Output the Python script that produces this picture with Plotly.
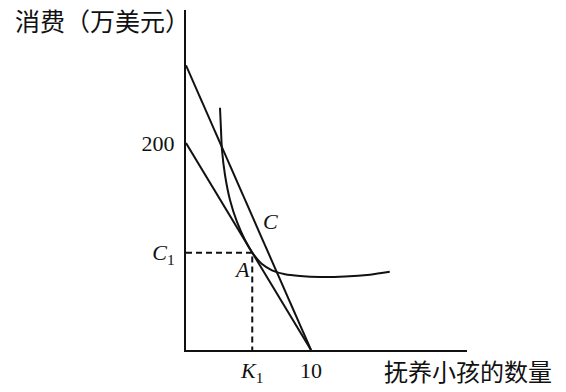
import plotly.graph_objects as go

# ---- data ----
K1 = 5.3          # children at optimum A
C1 = 94           # consumption at optimum A
budget_x = [0, 10]
budget_y = [200, 0]          # budget line 1
steep_x = [0, 10]
steep_y = [275, 0]           # budget line 2 (steeper)
indiff_x = [2.72, 2.8, 2.88, 3.12, 3.52, 4.08, 4.72, 5.3, 6.08, 6.88, 7.92, 9.12, 10.72, 12.72, 14.72, 16.3]
indiff_y = [234, 212.6, 193.2, 169.1, 144.9, 123.7, 106.3, 94.2, 83, 77, 73.2, 71.5, 70.5, 71.0, 72.8, 75.5]
x_tick_vals = [K1, 10]
x_tick_text = ["<i>K</i><sub>1</sub>", "10"]
y_tick_vals = [C1, 200]
y_tick_text = ["<i>C</i><sub>1</sub>", "200"]
label_C = (6.75, 124)
label_A = (4.45, 78)

X_MAX = 22.48
Y_MAX = 328.5
ink = "#111111"
serif = "Liberation Serif, DejaVu Serif, serif"
cjk = "Noto Sans CJK SC"

fig = go.Figure()
fig.add_trace(go.Scatter(x=steep_x, y=steep_y, mode="lines", line=dict(color=ink, width=2), cliponaxis=False))
fig.add_trace(go.Scatter(x=budget_x, y=budget_y, mode="lines", line=dict(color=ink, width=2), cliponaxis=False))
fig.add_trace(go.Scatter(x=indiff_x, y=indiff_y, mode="lines", line=dict(color=ink, width=2, shape="spline", smoothing=0.8)))
fig.add_trace(go.Scatter(x=[0, K1, K1], y=[C1, C1, 0], mode="lines", line=dict(color=ink, width=2, dash="6px,4px")))

fig.add_annotation(x=label_C[0], y=label_C[1], text="<i>C</i>", showarrow=False,
                   font=dict(family=serif, size=22, color=ink))
fig.add_annotation(x=label_A[0], y=label_A[1], text="<i>A</i>", showarrow=False,
                   font=dict(family=serif, size=22, color=ink))
fig.add_annotation(xref="paper", yref="paper", x=0.02, y=0.97, xanchor="right", yanchor="middle",
                   text="消费（万美元）", showarrow=False, font=dict(family=cjk, size=25, color=ink))
fig.add_annotation(xref="paper", yref="paper", x=0.699, y=-0.06, xanchor="left", yanchor="middle",
                   text="抚养小孩的数量", showarrow=False, font=dict(family=cjk, size=24, color=ink))

fig.update_layout(
    width=566, height=392,
    margin=dict(l=186, r=99, t=10, b=42, autoexpand=False),
    paper_bgcolor="white", plot_bgcolor="white",
    showlegend=False,
    xaxis=dict(range=[0, X_MAX], showgrid=False, zeroline=False, showline=True, linecolor=ink, linewidth=2,
               automargin=False,
               tickmode="array", tickvals=x_tick_vals, ticktext=x_tick_text, ticks="", ticklabelstandoff=0,
               tickfont=dict(family=serif, size=22, color=ink)),
    yaxis=dict(range=[0, Y_MAX], showgrid=False, zeroline=False, showline=True, linecolor=ink, linewidth=2,
               automargin=False,
               tickmode="array", tickvals=y_tick_vals, ticktext=y_tick_text, ticks="", ticklabelstandoff=5,
               tickfont=dict(family=serif, size=22, color=ink)),
)
fig.write_html("out.html")
